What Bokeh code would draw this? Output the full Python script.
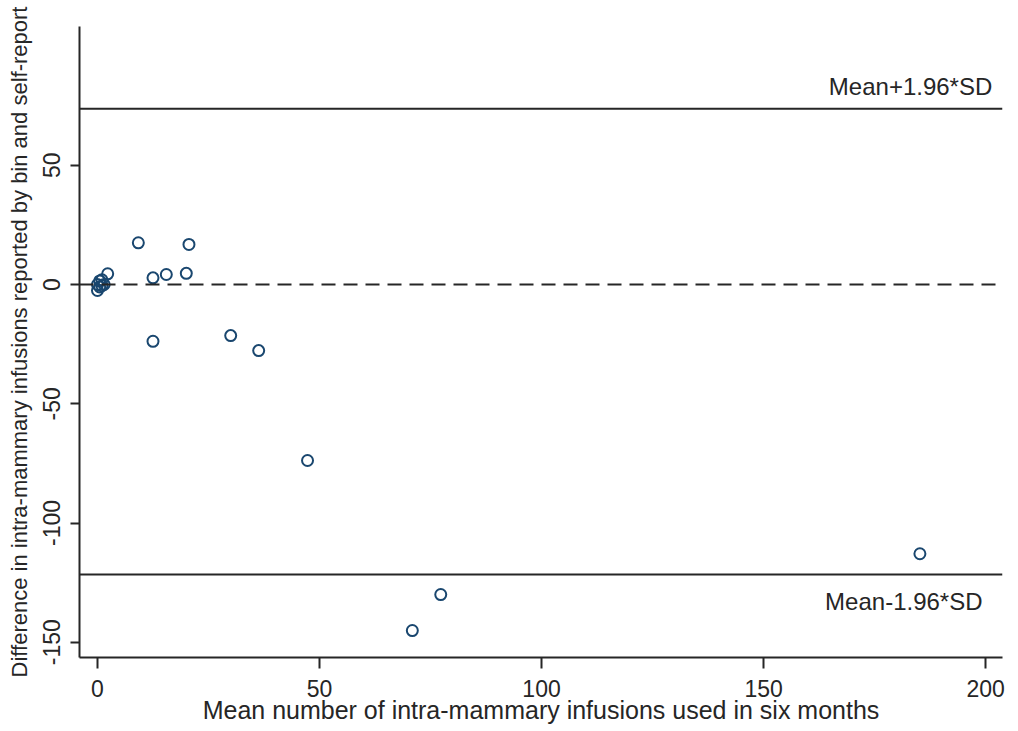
from bokeh.plotting import figure
from bokeh.models import Range1d, FixedTicker, Span, Label
from bokeh.embed import file_html
from bokeh.resources import INLINE

# ---- data ----
mean_use = [0.0, 0.5, 0.5, 1.0, 1.0, 1.5, 0.0, 2.3, 9.2, 12.5, 12.5, 15.5, 20.0, 20.6,
            30.0, 36.3, 47.3, 70.9, 77.3, 185.2]
difference = [0.0, 1.5, -1.0, 2.0, -0.5, 0.0, -2.5, 4.5, 17.5, 2.8, -23.8, 4.2, 4.7, 16.8,
              -21.4, -27.7, -73.8, -145.1, -130.0, -112.9]
upper_loa = 73.7
lower_loa = -121.6
zero_line = 0.0
x_ticks = [0, 50, 100, 150, 200]
y_ticks = [-150, -100, -50, 0, 50]
y_tick_labels = ["-150", "-100", "-50", "0", "50"]
upper_text = "Mean+1.96*SD"
lower_text = "Mean-1.96*SD"
x_title = "Mean number of intra-mammary infusions used in six months"
y_title = "Difference in intra-mammary infusions reported by bin and self-report"

FONT = "Liberation Sans"
INK = "#262626"
NAVY = "#1a476f"

p = figure(frame_width=923, frame_height=631,
           x_range=Range1d(-4.05, 203.8), y_range=Range1d(-156.4, 108.2),
           output_backend="svg", toolbar_location=None,
           min_border_left=79, min_border_right=14, min_border_top=26, min_border_bottom=72)

p.outline_line_color = None
p.background_fill_color = "white"
p.border_fill_color = "white"
p.xgrid.visible = False
p.ygrid.visible = False

for ax in (p.xaxis[0], p.yaxis[0]):
    ax.axis_line_color = INK
    ax.axis_line_width = 2
    ax.major_tick_line_color = INK
    ax.major_tick_line_width = 2
    ax.major_tick_in = 0
    ax.minor_tick_line_color = None
    ax.major_label_text_font = FONT
    ax.major_label_text_font_size = "23px"
    ax.major_label_text_color = INK
    ax.axis_label_text_font = FONT
    ax.axis_label_text_font_style = "normal"
    ax.axis_label_text_color = INK

p.xaxis.ticker = FixedTicker(ticks=x_ticks)
p.yaxis.ticker = FixedTicker(ticks=y_ticks)
p.yaxis.major_label_overrides = {t: s for t, s in zip(y_ticks, y_tick_labels)}
p.xaxis.major_tick_out = 11
p.yaxis.major_tick_out = 9
p.xaxis.major_label_standoff = 11
p.yaxis.major_label_standoff = 10
p.yaxis.major_label_orientation = "parallel"
p.xaxis.axis_label = x_title
p.yaxis.axis_label = y_title
p.xaxis.axis_label_text_font_size = "25px"
p.yaxis.axis_label_text_font_size = "22px"
p.xaxis.axis_label_standoff = -4
p.yaxis.axis_label_standoff = 9

# reference lines
p.add_layout(Span(location=upper_loa, dimension="width", line_color=INK, line_width=2))
p.add_layout(Span(location=lower_loa, dimension="width", line_color=INK, line_width=2))
p.add_layout(Span(location=zero_line, dimension="width", line_color=INK, line_width=2,
                  line_dash="14 8"))

# points
p.scatter(mean_use, difference, marker="circle", size=11, fill_color=None,
          line_color=NAVY, line_width=2)

# annotations
p.add_layout(Label(x=201.5, y=83.2, text=upper_text, text_align="right",
                   text_baseline="alphabetic", text_font=FONT, text_font_size="24px",
                   text_color=INK))
p.add_layout(Label(x=199.3, y=-132.9, text=lower_text, text_align="right",
                   text_baseline="alphabetic", text_font=FONT, text_font_size="24px",
                   text_color=INK))

open("out.html", "w").write(file_html(p, INLINE))
